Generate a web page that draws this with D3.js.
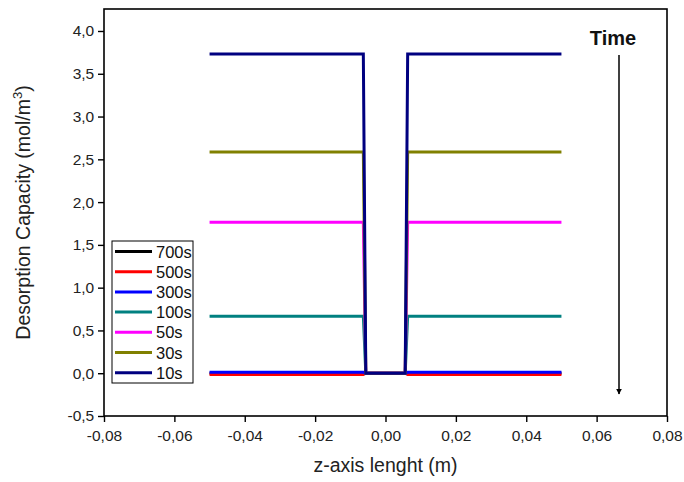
<!DOCTYPE html>
<html><head><meta charset="utf-8">
<script src="https://cdn.jsdelivr.net/npm/d3@7"></script>
<style>body{margin:0;background:#fff}text{font-family:Arial,"Liberation Sans",sans-serif}</style>
</head><body><svg id="c" width="684" height="482"></svg>
<script>
const seriesNames = ["700s","500s","300s","100s","50s","30s","10s"];
const seriesColors = ["#000000","#ff0000","#0000ff","#008080","#ff00ff","#808000","#000080"];
const plateauValues = [0.0, -0.015, 0.01, 0.667, 1.766, 2.585, 3.731];
const zPoints = [-0.05, -0.0063, -0.0056, 0.0056, 0.0063, 0.05];
const profileShape = [1, 1, 0, 0, 1, 1];
const xTicks = [-0.08,-0.06,-0.04,-0.02,0.00,0.02,0.04,0.06,0.08];
const yTicks = [-0.5,0,0.5,1,1.5,2,2.5,3,3.5,4];

const svg = d3.select("#c");
const L=104, R=667, T=9, B=416;
const x = d3.scaleLinear().domain([-0.08,0.08]).range([L,R]);
const y = d3.scaleLinear().domain([-0.5,4.257]).range([B,T]);
const fmt = d => d.toFixed(2).replace(".",",");
const fmtY = d => d.toFixed(1).replace(".",",");

// frame
svg.append("rect").attr("x",L).attr("y",T).attr("width",R-L).attr("height",B-T)
  .attr("fill","none").attr("stroke","#000").attr("stroke-width",1.6);

// x axis
const xMinor = d3.range(-0.08,0.0801,0.01);
const gx = svg.append("g").attr("transform",`translate(0,${B})`);
gx.call(d3.axisBottom(x).tickValues(xMinor).tickSize(3).tickFormat(""));
gx.call(d3.axisBottom(x).tickValues(xTicks).tickSize(6).tickFormat(fmt));
gx.selectAll(".domain").remove();
gx.selectAll("line").attr("stroke","#000").attr("stroke-width",1.4);
gx.selectAll("text").attr("font-size",15.5).attr("fill","#222").attr("dy","1.0em");

// y axis
const yMinor = d3.range(-0.5,4.2501,0.25);
const gy = svg.append("g").attr("transform",`translate(${L},0)`);
gy.call(d3.axisLeft(y).tickValues(yMinor).tickSize(3).tickFormat(""));
gy.call(d3.axisLeft(y).tickValues(yTicks).tickSize(6).tickFormat(fmtY));
gy.selectAll(".domain").remove();
gy.selectAll("line").attr("stroke","#000").attr("stroke-width",1.4);
gy.selectAll("text").attr("font-size",15.5).attr("fill","#222").attr("dx","-0.05em");

// titles
svg.append("text").attr("x",(L+R)/2).attr("y",472).attr("text-anchor","middle")
  .attr("font-size",19.5).attr("fill","#222").text("z-axis lenght (m)");
const yt = svg.append("text").attr("transform",`translate(30,${(T+B)/2}) rotate(-90)`)
  .attr("text-anchor","middle").attr("font-size",19.5).attr("fill","#222");
yt.append("tspan").text("Desorption Capacity (mol/m");
yt.append("tspan").attr("font-size",13).attr("dy",-8).text("3");
yt.append("tspan").attr("dy",8).text(")");

// lines
const line = d3.line().x(d=>x(d[0])).y(d=>y(d[1]));
seriesNames.forEach((n,i)=>{
  const pts = zPoints.map((z,j)=>[z, plateauValues[i]*profileShape[j]]);
  svg.append("path").datum(pts).attr("d",line).attr("fill","none")
    .attr("stroke",seriesColors[i]).attr("stroke-width",3).attr("stroke-linejoin","miter");
});

// legend
const lg = svg.append("g");
lg.append("rect").attr("x",112).attr("y",241).attr("width",81).attr("height",142)
  .attr("fill","#fff").attr("stroke","#000").attr("stroke-width",1);
seriesNames.forEach((n,i)=>{
  const cy = 251.5 + i*20.2;
  lg.append("line").attr("x1",115).attr("x2",152).attr("y1",cy).attr("y2",cy)
    .attr("stroke",seriesColors[i]).attr("stroke-width",3);
  lg.append("text").attr("x",156).attr("y",cy+6).attr("font-size",16.5).attr("fill","#111").text(n);
});

// Time arrow
svg.append("text").attr("x",613).attr("y",45).attr("text-anchor","middle")
  .attr("font-size",20).attr("font-weight","bold").attr("fill","#111").text("Time");
svg.append("defs").append("marker").attr("id","ah").attr("viewBox","0 0 10 10")
  .attr("refX",9).attr("refY",5).attr("markerWidth",6).attr("markerHeight",8)
  .attr("markerUnits","userSpaceOnUse").attr("orient","auto")
  .append("path").attr("d","M0,0 L10,5 L0,10 Z").attr("fill","#000");
svg.append("line").attr("x1",619).attr("x2",619).attr("y1",55).attr("y2",394)
  .attr("stroke","#000").attr("stroke-width",1.5).attr("marker-end","url(#ah)");
</script></body></html>
